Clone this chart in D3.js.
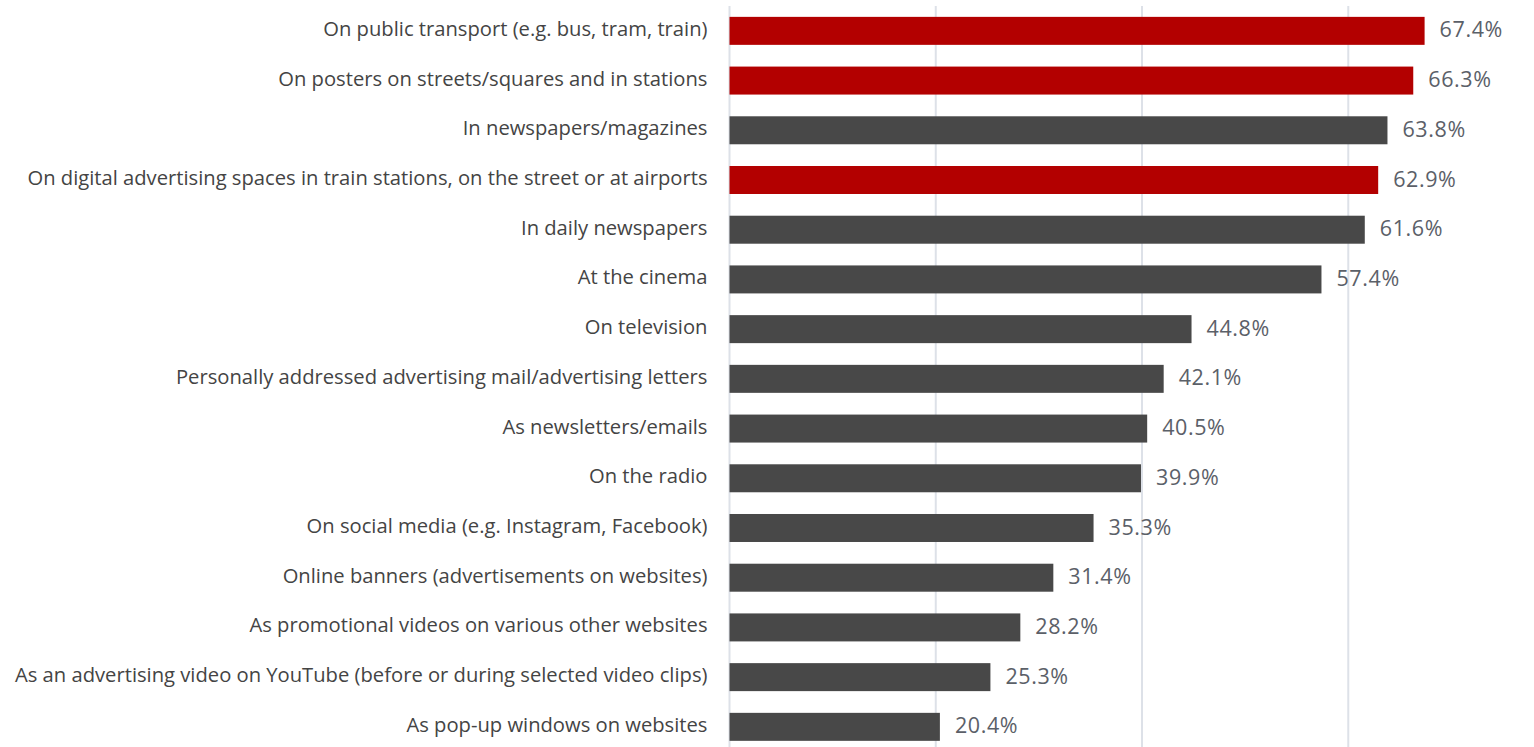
<!DOCTYPE html>
<html>
<head>
<meta charset="utf-8">
<script src="https://cdn.jsdelivr.net/npm/d3@7"></script>
<style>
  body { margin: 0; background: #fff; }
  svg { display: block; }
  text { font-family: "Open Sans", sans-serif; }
</style>
</head>
<body>
<svg id="chart" width="1534" height="747"></svg>
<script>
const categories = [
  "On public transport (e.g. bus, tram, train)",
  "On posters on streets/squares and in stations",
  "In newspapers/magazines",
  "On digital advertising spaces in train stations, on the street or at airports",
  "In daily newspapers",
  "At the cinema",
  "On television",
  "Personally addressed advertising mail/advertising letters",
  "As newsletters/emails",
  "On the radio",
  "On social media (e.g. Instagram, Facebook)",
  "Online banners (advertisements on websites)",
  "As promotional videos on various other websites",
  "As an advertising video on YouTube (before or during selected video clips)",
  "As pop-up windows on websites"
];
const values = [67.4, 66.3, 63.8, 62.9, 61.6, 57.4, 44.8, 42.1, 40.5, 39.9, 35.3, 31.4, 28.2, 25.3, 20.4];
const highlighted = [true, true, false, true, false, false, false, false, false, false, false, false, false, false, false];
const gridTicks = [0, 20, 40, 60];

const svg = d3.select("#chart");
const x = d3.scaleLinear().domain([0, 80]).range([729.5, 729.5 + 80 * 10.313]);
const y = d3.scaleBand().domain(categories).range([6, 751.7]).paddingInner(0.437).paddingOuter(0.2185);

svg.append("g").selectAll("line").data(gridTicks).join("line")
  .attr("x1", d => x(d)).attr("x2", d => x(d))
  .attr("y1", 6).attr("y2", 747)
  .attr("stroke", "#dde1e8").attr("stroke-width", 2);

svg.append("g").selectAll("rect").data(values).join("rect")
  .attr("x", x(0))
  .attr("y", (d, i) => y(categories[i]))
  .attr("width", d => x(d) - x(0))
  .attr("height", y.bandwidth())
  .attr("fill", (d, i) => highlighted[i] ? "#b30000" : "#484848");

svg.append("g").selectAll("text").data(categories).join("text")
  .attr("x", x(0) - 22)
  .attr("y", d => y(d) + y.bandwidth() / 2 - 2)
  .attr("dy", "0.35em")
  .attr("text-anchor", "end")
  .attr("font-size", 20.2)
  .attr("fill", "#444444")
  .text(d => d);

svg.append("g").selectAll("text").data(values).join("text")
  .attr("x", d => x(d) + 15)
  .attr("y", (d, i) => y(categories[i]) + y.bandwidth() / 2 - 1)
  .attr("dy", "0.35em")
  .attr("font-size", 21.5)
  .attr("fill", "#5b6068")
  .attr("letter-spacing", 0.6)
  .text(d => d.toFixed(1) + "%");
</script>
</body>
</html>
